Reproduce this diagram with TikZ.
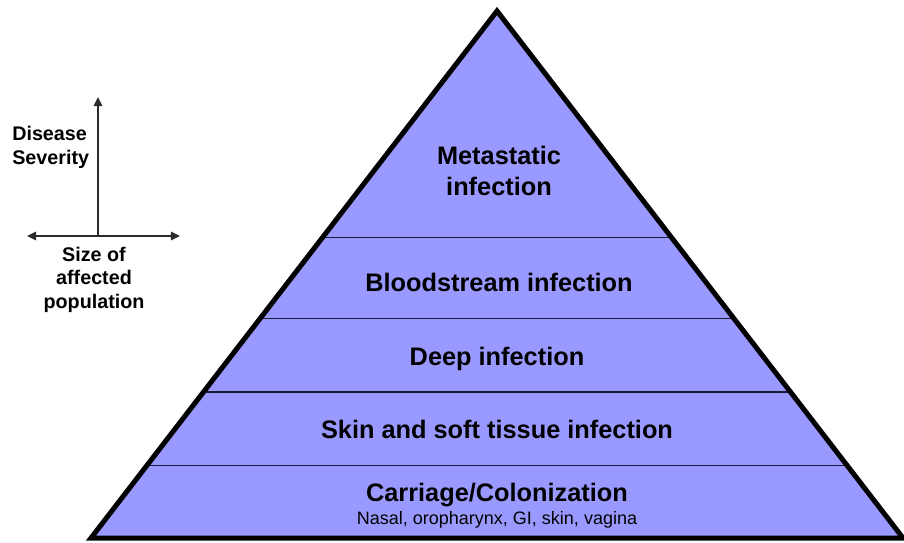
\documentclass[tikz,border=0pt]{standalone}
\usepackage{fontspec}
\setmainfont{Liberation Sans}
\usepackage{xcolor}
\definecolor{cLayer}{HTML}{9999FF}
\definecolor{cEdge}{HTML}{000000}
\definecolor{cLine}{HTML}{1A1A33}
\definecolor{cAxis}{HTML}{2B2B2B}
\usetikzlibrary{positioning,arrows.meta,calc}
\tikzset{
  node-layer/.style={font=\fontsize{19}{23.2}\selectfont\bfseries,align=center,
    inner sep=0pt,anchor=base},
  node-sub/.style={font=\fontsize{13.5}{16}\selectfont,inner sep=0pt,anchor=base},
  node-axis/.style={font=\fontsize{14.8}{17.3}\selectfont\bfseries,inner sep=0pt},
  pyramid/.style={draw=cEdge,line width=3.75pt,fill=cLayer,line join=miter},
  divider/.style={draw=cLine,line width=1pt},
  arrow-axis/.style={-{Triangle[length=2.4mm,width=2.2mm]},line width=1.4pt,draw=cAxis},
  arrow-axis-both/.style={{Triangle[length=2.4mm,width=2.2mm]}-{Triangle[length=2.4mm,width=2.2mm]},
    line width=1.4pt,draw=cAxis},
}

\begin{document}
\begin{tikzpicture}[x=0.75pt,y=-0.75pt]
  \useasboundingbox (0,0) rectangle (904,543);

  % pyramid corners
  \coordinate (apex) at (497,11);
  \coordinate (base-l) at (91,538);
  \coordinate (base-r) at (903,538);
  \fill[cLayer] (apex) -- (base-l) -- (base-r) -- cycle;

  % layer borders
  \foreach \t in {0.570, 0.417, 0.277, 0.138}{
    \draw[divider] ($(base-l)!\t!(apex)$) -- ($(base-r)!\t!(apex)$);
  }
  \draw[pyramid,fill=none] (apex) -- (base-l) -- (base-r) -- cycle;

  % layer labels (base = last line)
  \node[node-layer] (meta) at (499,195) {Metastatic\\infection};
  \node[node-layer] (blood) at (499,291) {Bloodstream infection};
  \node[node-layer] (deep) at (497,365) {Deep infection};
  \node[node-layer] (skin) at (497,438) {Skin and soft tissue infection};
  \node[node-layer] (carr) at (497,501) {Carriage/Colonization};
  \node[node-sub] (sites) at (497,524) {Nasal, oropharynx, GI, skin, vagina};

  % axes key
  \coordinate (ax-origin) at (98,236);
  \coordinate (ax-top) at (98,97);
  \coordinate (ax-left) at (27,236);
  \coordinate (ax-right) at (180,236);
  \draw[arrow-axis] (ax-origin) -- (ax-top);
  \draw[arrow-axis-both] (ax-left) -- (ax-right);
  \node[node-axis,align=left,anchor=base west] (sev) at (12,164) {Disease\\Severity};
  \node[node-axis,align=center,anchor=base] (size) at (94,308) {Size of\\affected\\population};
\end{tikzpicture}
\end{document}
